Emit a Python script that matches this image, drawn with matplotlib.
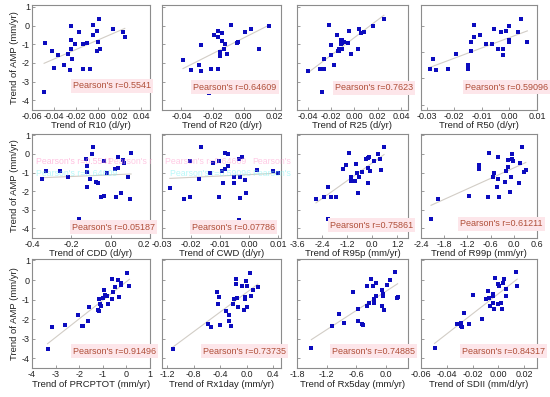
import numpy as np
import matplotlib.pyplot as plt
from matplotlib.ticker import FixedLocator, FormatStrFormatter

plt.rcParams['font.family'] = ['Liberation Sans', 'DejaVu Sans']
plt.rcParams['axes.unicode_minus'] = False

# -------------------
# Data
# -------------------
r10_x = [-0.0489, -0.048, -0.0415, -0.040, -0.036, -0.031, -0.0267, -0.0252, -0.0246, -0.0243,
         -0.0243, -0.0234, -0.0207, -0.0172, -0.0136, -0.0136, -0.0095, -0.0065, -0.0044, -0.0044,
         -0.0006, 0.0, -0.0006, 0.0009, 0.0024, 0.0142, 0.0237, 0.0249]
r10_y = [-3.54, -0.91, -1.36, -2.29, -1.57, -2.11, -1.52, -2.41, 0.0, -0.80,
         -1.27, -1.80, -1.0, -0.36, -1.0, -2.34, -0.91, -2.32, 0.04, -0.5,
         -0.27, -0.86, -1.39, 0.36, -1.27, -0.2, -0.36, -0.63]

r20_x = [-0.039, -0.0338, -0.0286, -0.0276, -0.0276, -0.0211, -0.0224, -0.0193, -0.0162, -0.0162,
         -0.0162, -0.0141, -0.0141, -0.0149, -0.0151, -0.0128, -0.012, -0.0108, -0.0079, -0.0046,
         -0.0035, 0.0006, 0.0048, 0.0099, 0.0162]
r20_y = [-1.84, -2.39, -2.14, -2.46, -1.04, -2.34, -3.59, -0.52, -0.29, -0.63,
         -2.34, -0.375, -0.84, -1.43, -1.61, -1.25, -1.0, -1.54, 0.02, -0.91,
         -0.875, -0.36, -0.2, -1.27, 0.0]

r25_x = [-0.0394, -0.0289, -0.0274, -0.0257, -0.0274, -0.0257, -0.0214, -0.0203, -0.0203, -0.0171,
         -0.0151, -0.0137, -0.0131, -0.0129, -0.0114, -0.0114, -0.0103, -0.0103, -0.0089, -0.0109,
         -0.0051, -0.0043, -0.0031, 0.0029, 0.0043, 0.0054, 0.0086, 0.0157, 0.0254]
r25_y = [-2.43, -2.32, -2.34, -2.34, -3.57, -1.80, 0.02, -1.04, -1.57, -2.11,
         -0.52, -1.36, -1.27, -1.36, -0.98, -0.77, -0.80, -0.91, -0.89, -1.27,
         -0.91, -0.27, -1.54, -1.27, -0.2, -0.375, -0.34, 0.0, 0.36]

r50_x = [-0.0287, -0.0277, -0.0265, -0.0223, -0.0192, -0.015, -0.015, -0.0139, -0.0138, -0.0127,
         -0.0127, -0.0108, -0.0085, -0.0075, -0.0063, -0.0054, -0.0042, -0.0031, -0.0022, -0.0022,
         -0.0012, 0.0, 0.0, 0.0, 0.0032, 0.0042, 0.0065]
r50_y = [-2.34, -1.79, -2.41, -2.32, -1.52, -2.11, -2.32, -1.36, -0.86, -0.625,
         0.04, -0.5, -1.0, -3.54, -0.98, -0.18, -1.25, -0.36, -1.25, -1.57,
         -0.27, 0.0, -0.77, -0.89, -0.36, 0.36, -0.89]

cdd_x = [-0.349, -0.330, -0.260, -0.219, -0.163, -0.126, -0.122, -0.122, -0.118, -0.106,
         -0.096, -0.090, -0.077, -0.064, -0.047, -0.034, -0.033, -0.020, 0.021, 0.029,
         0.038, 0.038, 0.054, 0.065, 0.070, 0.087, 0.098, 0.104]
cdd_y = [-1.37, -0.90, -0.90, -1.26, -3.53, -0.27, -0.63, -0.99, -1.80, -1.37,
         -0.02, 0.36, -1.53, -1.55, -2.34, -0.36, -2.27, -1.01, -0.83, -2.31,
         -0.18, -0.77, -2.09, -0.32, -0.50, -1.23, -2.40, 0.04]

cwd_x = [-0.0273, -0.0224, -0.0205, -0.0202, -0.0173, -0.0165, -0.0134, -0.0124, -0.0105, -0.0102,
         -0.0093, -0.0091, -0.0083, -0.0082, -0.0074, -0.0074, -0.0053, -0.0053, -0.0033, -0.0032,
         -0.0032, -0.0034, -0.0023, -0.0014, -0.0011, 0.0026, 0.0084, 0.0098]
cwd_y = [-1.82, -2.45, -0.36, -2.31, -1.37, 0.36, -1.05, -0.50, -0.36, -2.34,
         -0.92, -1.59, 0.04, -0.81, -0.02, -0.63, -1.26, -1.55, -0.27, -1.26,
         -2.36, -3.57, -0.18, -1.41, -2.13, -0.86, -0.90, -1.0]

r95_x = [-2.69, -2.29, -2.11, -2.11, -1.95, -1.72, -1.38, -1.23, -1.10, -1.02,
         -1.02, -0.99, -0.83, -0.75, -0.73, -0.66, -0.62, -0.49, -0.29, -0.21,
         -0.19, -0.18, -0.13, -0.08, 0.11, 0.28, 0.44, 0.36, 0.57]
r95_y = [-2.43, -2.31, -1.80, -3.53, -2.34, -2.31, -0.83, -0.59, 0.04, -1.37,
         -1.26, -1.46, -1.44, -0.56, -1.01, -2.09, -1.23, -0.99, -0.29, -0.23,
         -1.55, -0.74, -0.18, -0.90, -0.38, -0.02, -0.86, -0.27, 0.36]

r99_x = [-2.14, -1.97, -1.16, -0.90, -0.90, -0.68, -0.63, -0.55, -0.51, -0.42,
         -0.42, -0.43, -0.38, -0.22, -0.21, -0.16, -0.15, -0.09, -0.04, -0.04,
         -0.02, 0.14, 0.17, 0.21, 0.27, 0.31, -0.06]
r99_y = [-3.51, -2.40, -2.27, -0.59, -0.83, -2.31, 0.04, -1.23, -1.01, -0.18,
         -1.37, -1.77, -2.31, -1.53, -0.90, -0.72, -0.32, -2.07, -0.02, -0.29,
         -0.36, -1.55, -0.50, 0.40, -0.99, -0.86, -1.23]

prcp_x = [-3.34, -3.17, -2.60, -2.04, -1.90, -1.83, -1.62, -1.57, -1.19, -1.16,
          -1.15, -1.12, -1.08, -0.98, -0.94, -0.91, -0.84, -0.77, -0.63, -0.58,
          -0.59, -0.48, -0.34, -0.30, -0.23, -0.24, 0.04, 0.13]
prcp_y = [-3.54, -2.42, -2.30, -1.79, -2.33, -2.35, -2.10, -1.36, -1.53, -0.99,
          -1.57, -1.23, -1.33, -0.90, -0.51, -0.77, -0.82, -1.23, -0.99, -0.63,
          0.03, -0.37, 0.0, -0.89, -0.26, -0.14, 0.37, -0.31]

rx1_x = [-1.12, -0.58, -0.54, -0.45, -0.42, -0.43, -0.41, -0.31, -0.27, -0.27,
         -0.24, -0.20, -0.19, -0.16, -0.16, -0.15, -0.13, -0.07, -0.03, -0.03,
         -0.04, -0.01, 0.0, 0.01, 0.05, 0.06, 0.10, 0.17]
rx1_y = [-3.54, -2.27, -2.42, -0.63, -0.85, -1.24, -2.30, -1.57, -1.79, -2.08,
         -2.33, -1.24, -0.99, 0.05, -0.20, -0.90, -1.36, -0.29, -0.99, -0.89,
         -1.53, -0.03, -0.29, -1.40, 0.34, -0.80, -0.51, -0.34]

rx5_x = [-1.51, -1.09, -0.95, -0.86, -0.68, -0.57, -0.57, -0.49, -0.47, -0.38,
         -0.38, -0.34, -0.30, -0.26, -0.21, -0.24, -0.24, -0.20, -0.09, -0.08,
         -0.06, -0.06, -0.05, 0.01, 0.07, 0.18, 0.21, 0.23]
rx5_y = [-3.46, -2.37, -1.74, -2.21, -0.60, -1.50, -2.08, -2.27, -2.30, -0.31,
         -1.33, -1.19, 0.05, -0.31, -0.17, -0.99, -1.19, -0.80, -1.31, -0.51,
         -0.73, -0.82, -1.53, -0.26, 0.0, 0.39, -0.94, -0.85]

sdii_x = [-0.0495, -0.0322, -0.0289, -0.0289, -0.0284, -0.0266, -0.0225, -0.0194, -0.0124, -0.0096,
          -0.0083, -0.0070, -0.0065, -0.0039, -0.0039, -0.0039, -0.0032, -0.0027, -0.0006, -0.0001,
          0.0007, 0.0020, 0.0025, 0.0033, 0.0045, 0.0063, 0.0063, 0.0135, 0.0146]
sdii_y = [-3.46, -2.27, -2.21, -2.33, -2.39, -1.70, -2.25, -0.77, -2.01, -0.97,
          -0.56, -0.94, -1.31, -0.73, -0.82, -1.19, -1.48, 0.09, -1.24, -0.20,
          -0.29, -1.19, -1.50, -0.14, 0.05, -0.46, -0.82, 0.39, -0.29]

xlabels = ["Trend of R10 (d/yr)", "Trend of R20 (d/yr)", "Trend of R25 (d/yr)", "Trend of R50 (d/yr)",
           "Trend of CDD (d/yr)", "Trend of CWD (d/yr)", "Trend of R95p (mm/yr)", "Trend of R99p (mm/yr)",
           "Trend of PRCPTOT (mm/yr)", "Trend of Rx1day (mm/yr)", "Trend of Rx5day (mm/yr)",
           "Trend of SDII (mm/d/yr)"]
pearson = ["0.5541", "0.64609", "0.7623", "0.59096",
           "0.05187", "0.07786", "0.75861", "0.61211",
           "0.91496", "0.73735", "0.74885", "0.84317"]
xticks = [[-0.06, -0.04, -0.02, 0.00, 0.02, 0.04], [-0.04, -0.02, 0.00, 0.02],
          [-0.04, -0.02, 0.00, 0.02, 0.04], [-0.03, -0.02, -0.01, 0.00, 0.01],
          [-0.4, -0.2, 0.0, 0.2], [-0.03, -0.02, -0.01, 0.00, 0.01],
          [-3.6, -2.4, -1.2, 0.0, 1.2], [-2.4, -1.8, -1.2, -0.6, 0.0, 0.6],
          [-4, -3, -2, -1, 0, 1], [-1.2, -0.8, -0.4, 0.0, 0.4],
          [-1.8, -1.2, -0.6, 0.0], [-0.06, -0.04, -0.02, 0.00, 0.02]]
xfmt = ['%.2f', '%.2f', '%.2f', '%.2f', '%.1f', '%.2f', '%.1f', '%.1f', '%d', '%.1f', '%.1f', '%.2f']
xlims = [(-0.06, 0.048), (-0.0525, 0.024), (-0.049, 0.046), (-0.032, 0.01),
         (-0.4, 0.2), (-0.03, 0.011), (-3.6, 1.72), (-2.4, 0.6),
         (-4.0, 1.0), (-1.28, 0.52), (-1.8, 0.44), (-0.06, 0.03)]
yticks = [1, 0, -1, -2, -3, -4]

data = [(r10_x, r10_y), (r20_x, r20_y), (r25_x, r25_y), (r50_x, r50_y),
        (cdd_x, cdd_y), (cwd_x, cwd_y), (r95_x, r95_y), (r99_x, r99_y),
        (prcp_x, prcp_y), (rx1_x, rx1_y), (rx5_x, rx5_y), (sdii_x, sdii_y)]

# -------------------
# Layout in pixels
# -------------------
W, H = 550, 397
cols = [(32, 150), (162, 281), (297, 408), (421, 537)]
rows = [(5, 109.5), (133.5, 237.5), (258.5, 368)]
text_pos = [(73, 86), (193, 87), (335, 88), (465, 87),
            (72, 227), (192, 227), (330, 225), (460, 224),
            (73, 351), (203, 351), (332, 351), (462, 351)]
frame = '#8c8c8c'

fig = plt.figure(figsize=(W / 100, H / 100), dpi=100)

# faint ghost labels left over in the CDD / CWD panels
ghosts = [(36, 161, "Pearson's r=0.5541", '#ff8fc8'), (36, 174, "Pearson's r=0.64609", '#80f4f4'),
          (108, 161, "Pearson's r", '#ff9fcf'), (165, 161, "Pearson's r=0.64609", '#ff9fcf'),
          (170, 174, "Pearson's r=0.59096", '#80f4f4'), (252, 161, "Pearson's", '#ff9fcf'),
          (252, 174, "Pearson's", '#80f4f4')]
for gx, gy, gt, gc in ghosts:
    fig.text(gx / W, 1 - gy / H, gt, fontsize=6.3, color=gc, alpha=0.55,
             ha='left', va='center', zorder=0)

for i, (x, y) in enumerate(data):
    r, c = divmod(i, 4)
    x0, x1 = cols[c]
    y0, y1 = rows[r]
    ax = fig.add_axes([x0 / W, 1 - y1 / H, (x1 - x0) / W, (y1 - y0) / H])
    ax.patch.set_alpha(0)
    x = np.array(x)
    y = np.array(y)

    # linear fit
    k, b = np.polyfit(x, y, 1)
    xx = np.array([x.min(), x.max()])
    ax.plot(xx, k * xx + b, color='#d2cdc6', lw=0.8, zorder=1)
    ax.scatter(x, y, s=6.5, marker='s', color='#0c0cbe', linewidths=0, zorder=2)

    ax.set_xlim(*xlims[i])
    ax.set_ylim(-4.5, 1.1)
    ax.xaxis.set_major_locator(FixedLocator(xticks[i]))
    ax.xaxis.set_major_formatter(FormatStrFormatter(xfmt[i]))
    if i == 3:
        ax.set_yticks([0, -1.43, -2.82, -4.25])
    else:
        ax.set_yticks(yticks)
    ax.tick_params(direction='in', length=2.5, width=0.6, color=frame,
                   labelsize=6.5, pad=1.5, labelcolor='#222222')
    if c == 0:
        ax.set_yticklabels([str(t) for t in yticks])
        ax.set_ylabel("Trend of AMP (mm/yr)", fontsize=6.8, labelpad=2, color='#222222')
    else:
        ax.set_yticklabels([])
    ax.set_xlabel(xlabels[i], fontsize=6.8, labelpad=0.5, color='#222222')
    for s in ax.spines.values():
        s.set_color(frame)
        s.set_linewidth(0.8)
    if i == 4:
        # last label sits at the panel edge; keep it clear of the neighbour's first label
        ax.get_xticklabels()[-1].set_horizontalalignment('right')

    tx, ty = text_pos[i]
    fig.text(tx / W, 1 - ty / H, "Pearson's r=" + pearson[i], fontsize=6.5,
             color='#b0503a', ha='left', va='center',
             bbox=dict(boxstyle='square,pad=0.25', fc='#fde6ea', ec='none'))

fig.savefig("out.png", dpi=100)
